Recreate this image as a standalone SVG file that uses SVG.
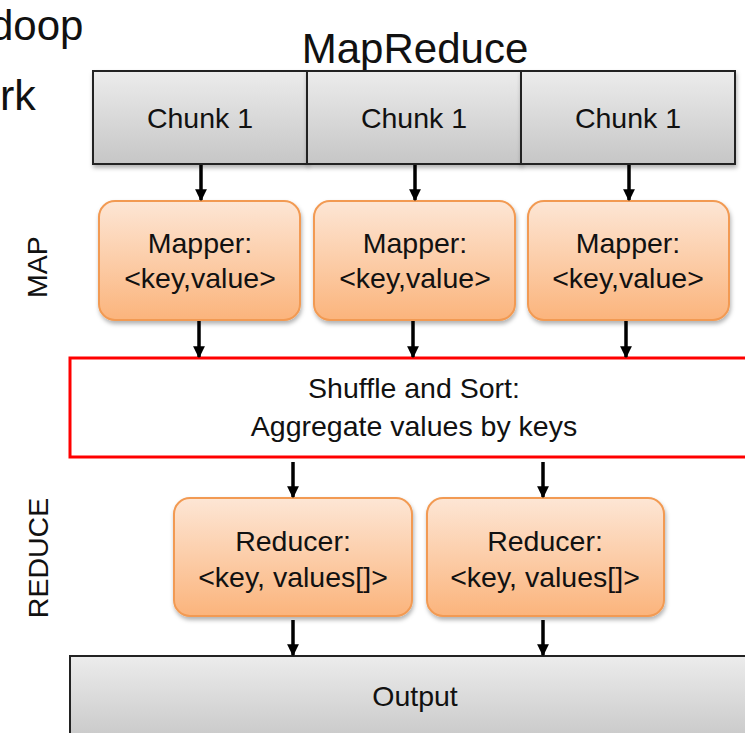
<svg xmlns="http://www.w3.org/2000/svg" width="745" height="733" viewBox="0 0 745 733">
  <style>
    .t { font-family: "Liberation Sans", Arial, sans-serif; fill: #111; font-size: 28.5px; }
    .chunk { fill: url(#gray); stroke: #222; stroke-width: 2; }
    .task { fill: url(#orange); stroke: #f29a52; stroke-width: 2; filter: url(#shadow); }
    .arrow { stroke: #000; stroke-width: 3.5; marker-end: url(#head); fill: none; }
  </style>
  <defs>
    <linearGradient id="gray" x1="0" y1="0" x2="0" y2="1">
      <stop offset="0" stop-color="#ececec"/>
      <stop offset="1" stop-color="#c6c6c6"/>
    </linearGradient>
    <linearGradient id="orange" x1="0" y1="0" x2="0" y2="1">
      <stop offset="0" stop-color="#fde6d5"/>
      <stop offset="1" stop-color="#fbb47c"/>
    </linearGradient>
    <filter id="shadow" x="-10%" y="-10%" width="120%" height="130%">
      <feDropShadow dx="1" dy="3" stdDeviation="2" flood-color="#000" flood-opacity="0.3"/>
    </filter>
    <marker id="head" viewBox="0 0 10 10" refX="9" refY="5" markerWidth="4" markerHeight="3.4" orient="auto" markerUnits="strokeWidth">
      <path d="M0,0 L10,5 L0,10 z" fill="#000"/>
    </marker>
  </defs>

  <!-- slide text running off the left edge -->
  <text class="t" x="-10" y="40" style="font-size:42px">doop</text>
  <text class="t" x="0" y="110" style="font-size:43px">rk</text>

  <!-- title -->
  <text class="t" x="415" y="63" style="font-size:42px" text-anchor="middle">MapReduce</text>

  <!-- phase labels -->
  <text class="t" x="47" y="267" text-anchor="middle" transform="rotate(-90 47 267)">MAP</text>
  <text class="t" x="48" y="558" text-anchor="middle" transform="rotate(-90 48 558)">REDUCE</text>

  <!-- input chunks -->
  <g id="chunk1">
    <rect class="chunk" x="93" y="71" width="214" height="93" filter="url(#shadow)"/>
    <text class="t" x="200" y="128" text-anchor="middle">Chunk 1</text>
  </g>
  <g id="chunk2">
    <rect class="chunk" x="307" y="71" width="214" height="93" filter="url(#shadow)"/>
    <text class="t" x="414" y="128" text-anchor="middle">Chunk 1</text>
  </g>
  <g id="chunk3">
    <rect class="chunk" x="521" y="71" width="214" height="93" filter="url(#shadow)"/>
    <text class="t" x="628" y="128" text-anchor="middle">Chunk 1</text>
  </g>

  <!-- mappers -->
  <g id="mapper1">
    <rect class="task" x="99" y="201" width="201" height="119" rx="16"/>
    <text class="t" x="200" y="253" text-anchor="middle">Mapper:</text>
    <text class="t" x="200" y="288" text-anchor="middle">&lt;key,value&gt;</text>
  </g>
  <g id="mapper2">
    <rect class="task" x="314" y="201" width="201" height="119" rx="16"/>
    <text class="t" x="415" y="253" text-anchor="middle">Mapper:</text>
    <text class="t" x="415" y="288" text-anchor="middle">&lt;key,value&gt;</text>
  </g>
  <g id="mapper3">
    <rect class="task" x="528" y="201" width="201" height="119" rx="16"/>
    <text class="t" x="628" y="253" text-anchor="middle">Mapper:</text>
    <text class="t" x="628" y="288" text-anchor="middle">&lt;key,value&gt;</text>
  </g>

  <!-- shuffle stage -->
  <g id="shuffle">
    <rect x="70" y="358" width="690" height="99" fill="#fff" stroke="#ff0000" stroke-width="3"/>
    <text class="t" x="414" y="398" text-anchor="middle">Shuffle and Sort:</text>
    <text class="t" x="414" y="436" text-anchor="middle">Aggregate values by keys</text>
  </g>

  <!-- reducers -->
  <g id="reducer1">
    <rect class="task" x="174" y="498" width="238" height="118" rx="16"/>
    <text class="t" x="293" y="551" text-anchor="middle">Reducer:</text>
    <text class="t" x="293" y="587" text-anchor="middle">&lt;key, values[]&gt;</text>
  </g>
  <g id="reducer2">
    <rect class="task" x="427" y="498" width="237" height="118" rx="16"/>
    <text class="t" x="545" y="551" text-anchor="middle">Reducer:</text>
    <text class="t" x="545" y="587" text-anchor="middle">&lt;key, values[]&gt;</text>
  </g>

  <!-- output -->
  <g id="output">
    <rect class="chunk" x="70" y="656" width="690" height="90"/>
    <text class="t" x="415" y="706" text-anchor="middle">Output</text>
  </g>

  <!-- connectors -->
  <g id="connectors">
    <line class="arrow" x1="201" y1="165" x2="201" y2="200"/>
    <line class="arrow" x1="415" y1="165" x2="415" y2="200"/>
    <line class="arrow" x1="629" y1="165" x2="629" y2="200"/>
    <line class="arrow" x1="199" y1="321" x2="199" y2="357"/>
    <line class="arrow" x1="413" y1="321" x2="413" y2="357"/>
    <line class="arrow" x1="626" y1="321" x2="626" y2="357"/>
    <line class="arrow" x1="293" y1="462" x2="293" y2="497"/>
    <line class="arrow" x1="543" y1="462" x2="543" y2="497"/>
    <line class="arrow" x1="293" y1="620" x2="293" y2="655"/>
    <line class="arrow" x1="543" y1="620" x2="543" y2="655"/>
  </g>
</svg>
